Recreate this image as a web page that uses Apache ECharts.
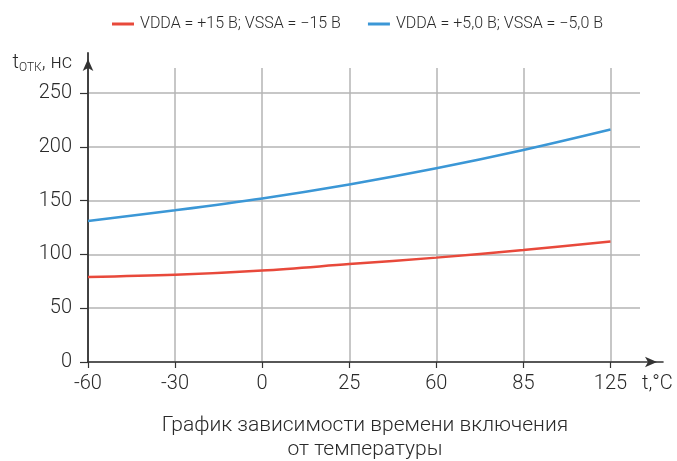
<!DOCTYPE html>
<html>
<head>
<meta charset="utf-8">
<script src="https://cdn.jsdelivr.net/npm/echarts@6/dist/echarts.min.js"></script>
<style>
  html, body { margin: 0; padding: 0; background: #fff; }
  #chart { width: 677px; height: 461px; }
</style>
</head>
<body>
<div id="chart"></div>
<script>
// Temperature points (°C) along the x axis
const temperatures = ['-60', '-30', '0', '25', '60', '85', '125'];
// Turn-on time, ns
const vdda15 = [79, 81, 85, 91, 97, 104, 112];
const vdda5 = [131, 141, 152, 165, 180, 197, 216];
const yTicks = [0, 50, 100, 150, 200, 250];
const seriesNames = ['VDDA = +15 В; VSSA = −15 В', 'VDDA = +5,0 В; VSSA = −5,0 В'];
const caption = 'График зависимости времени включения\nот температуры';

const FONT = 'Roboto';
const TEXT = '#2a2a2a';
const AXIS = '#333333';
const GRID = '#b4b4b4';

// pixel frame
const X0 = 88, Y0 = 362;        // origin
const Y250 = 93;                // position of the top labelled tick
const PLOT_TOP = 68;            // top of the vertical grid lines
const X_LAST = 610.5;           // last temperature column
const H_GRID_END = 640;         // right end of horizontal grid lines
const X_ARROW = 663, Y_ARROW = 53;
const W = 677, H = 461;

const yMax = yTicks[yTicks.length - 1];
const yMaxPlot = yMax * (Y0 - PLOT_TOP) / (Y0 - Y250);

const chart = echarts.init(document.getElementById('chart'), null, { renderer: 'canvas' });

chart.setOption({
  animation: false,
  backgroundColor: '#fff',
  textStyle: { fontFamily: FONT },
  color: ['#e8493b', '#3b97d6'],
  legend: {
    top: 11,
    left: 107,
    icon: 'rect',
    itemWidth: 22,
    itemHeight: 3,
    itemGap: 27,
    textStyle: { fontFamily: FONT, fontSize: 16, color: TEXT, fontWeight: 300, padding: [0, 0, 0, 1] },
    data: seriesNames
  },
  title: {
    text: caption,
    left: 360,
    textAlign: 'center',
    top: 409,
    textStyle: { fontFamily: FONT, fontSize: 21, fontWeight: 300, color: TEXT, lineHeight: 24 }
  },
  grid: [
    // axis lines with arrows
    { left: X0, right: W - X_ARROW, top: Y_ARROW, bottom: H - Y0 },
    // horizontal grid lines and value labels
    { left: X0, right: W - H_GRID_END, top: Y250, bottom: H - Y0 },
    // data area with temperature columns
    { left: X0, right: W - X_LAST, top: PLOT_TOP, bottom: H - Y0 }
  ],
  xAxis: [
    {
      gridIndex: 0, type: 'value', min: 0, max: 1,
      axisLine: { show: true, lineStyle: { color: AXIS, width: 1.6 }, symbol: ['none', 'arrow'], symbolSize: [8, 12], symbolOffset: [0, -6] },
      axisTick: { show: false }, axisLabel: { show: false }, splitLine: { show: false },
      name: 't,°C',
      nameLocation: 'end',
      nameGap: -21,
      nameTextStyle: { fontFamily: FONT, fontSize: 20, fontWeight: 300, color: TEXT, align: 'left', verticalAlign: 'top', padding: [12, 0, 0, 0] }
    },
    { gridIndex: 1, type: 'value', min: 0, max: 1, show: false },
    {
      gridIndex: 2, type: 'category', data: temperatures, boundaryGap: false,
      axisLine: { show: false },
      axisTick: { show: true, length: 6, lineStyle: { color: AXIS, width: 1.2 } },
      axisLabel: { margin: 12, fontFamily: FONT, fontSize: 20, fontWeight: 300, color: TEXT },
      splitLine: { show: true, lineStyle: { color: GRID, width: 1.5 } }
    }
  ],
  yAxis: [
    {
      gridIndex: 0, type: 'value', min: 0, max: 1,
      axisLine: { show: true, lineStyle: { color: AXIS, width: 1.8 }, symbol: ['none', 'arrow'], symbolSize: [8, 12], symbolOffset: [0, -6] },
      axisTick: { show: false }, axisLabel: { show: false }, splitLine: { show: false },
      name: '{t|t}{s|ОТК}{t|, нс}',
      nameLocation: 'end',
      nameGap: -10,
      nameTextStyle: {
        align: 'right', verticalAlign: 'middle', padding: [0, 16, 0, 0],
        rich: {
          t: { fontFamily: FONT, fontSize: 20, fontWeight: 300, color: TEXT, lineHeight: 22 },
          s: { fontFamily: FONT, fontSize: 12, fontWeight: 300, color: TEXT, padding: [10, 0, 0, 0], lineHeight: 22 }
        }
      }
    },
    {
      gridIndex: 1, type: 'value', min: 0, max: yMax, interval: 50,
      axisLine: { show: false },
      axisTick: { show: true, length: 8, lineStyle: { color: AXIS, width: 1.2 } },
      axisLabel: { margin: 16, fontFamily: FONT, fontSize: 20, fontWeight: 300, color: TEXT },
      splitLine: { show: true, lineStyle: { color: GRID, width: 1.5 } }
    },
    { gridIndex: 2, type: 'value', min: 0, max: yMaxPlot, show: false, splitLine: { show: false } }
  ],
  series: [
    {
      name: seriesNames[0], type: 'line', xAxisIndex: 2, yAxisIndex: 2,
      data: vdda15, smooth: 0.35, symbol: 'none',
      lineStyle: { width: 2.5 }, z: 5
    },
    {
      name: seriesNames[1], type: 'line', xAxisIndex: 2, yAxisIndex: 2,
      data: vdda5, smooth: 0.35, symbol: 'none',
      lineStyle: { width: 2.5 }, z: 5
    }
  ]
});
</script>
</body>
</html>
